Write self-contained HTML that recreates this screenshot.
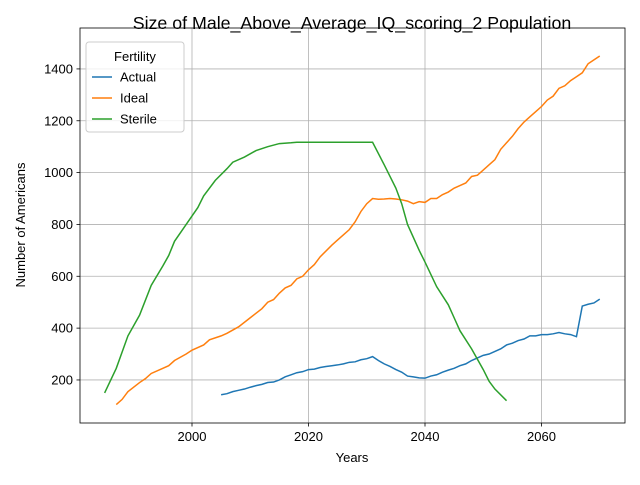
<!DOCTYPE html>
<html><head><meta charset="utf-8"><style>
body{margin:0;background:#fff}
svg{font-family:"Liberation Sans","DejaVu Sans",sans-serif}
</style></head><body>
<svg id="chart" width="640" height="480" viewBox="0 0 640 480" xmlns="http://www.w3.org/2000/svg">
<rect width="640" height="480" fill="#fff"/>
<text x="352" y="29" text-anchor="middle" font-size="17.8">Size of Male_Above_Average_IQ_scoring_2 Population</text>
<g id="grid"></g>
<g id="series"></g>
<rect x="80" y="28" width="545" height="395" fill="none" stroke="#000" stroke-width="0.8"/>
<g id="ticks"></g>
<text x="352" y="462" text-anchor="middle" font-size="13">Years</text>
<text transform="translate(25,225) rotate(-90)" text-anchor="middle" font-size="13">Number of Americans</text>
<g id="legend">
<rect x="86" y="42" width="98" height="90" rx="3" fill="#fff" fill-opacity="0.8" stroke="#ccc"/>
<text x="135" y="61" text-anchor="middle" font-size="13">Fertility</text>
</g>
</svg>
<script>
const actualYears=[2005,2006,2007,2008,2009,2010,2011,2012,2013,2014,2015,2016,2017,2018,2019,2020,2021,2022,2023,2024,2025,2026,2027,2028,2029,2030,2031,2032,2033,2034,2035,2036,2037,2038,2039,2040,2041,2042,2043,2044,2045,2046,2047,2048,2049,2050,2051,2052,2053,2054,2055,2056,2057,2058,2059,2060,2061,2062,2063,2064,2065,2066,2067,2068,2069,2070];
const actualValues=[143,147,155,160,165,172,178,183,190,192,200,212,220,228,232,240,242,248,252,255,258,262,268,270,278,282,290,275,262,252,240,230,215,212,208,207,215,220,230,238,245,255,262,275,285,295,300,310,320,335,342,352,358,370,370,375,375,378,383,378,375,367,485,492,497,512];
const idealYears=[1987,1988,1989,1991,1992,1993,1995,1996,1997,1999,2000,2002,2003,2005,2006,2008,2010,2012,2013,2014,2015,2016,2017,2018,2019,2020,2021,2022,2024,2025,2026,2027,2028,2029,2030,2031,2032,2033,2034,2035,2036,2037,2038,2039,2040,2041,2042,2043,2044,2045,2046,2047,2048,2049,2050,2051,2052,2053,2054,2055,2056,2057,2058,2059,2060,2061,2062,2063,2064,2065,2066,2067,2068,2069,2070];
const idealValues=[105,125,155,190,205,225,245,255,275,300,315,335,355,370,380,405,440,475,500,510,535,555,565,590,600,625,645,675,720,740,760,780,810,850,880,900,897,898,900,898,895,890,880,888,885,900,900,915,925,940,950,960,985,990,1010,1030,1050,1090,1115,1140,1170,1195,1215,1235,1255,1280,1295,1325,1335,1355,1370,1385,1420,1435,1450];
const sterileYears=[1985,1987,1989,1991,1993,1995,1996,1997,1999,2001,2002,2004,2006,2007,2009,2011,2013,2015,2017,2018,2031,2033,2035,2036,2037,2039,2040,2042,2044,2045,2046,2048,2049,2050,2051,2052,2054];
const sterileValues=[150,245,370,450,565,640,680,735,800,865,910,970,1015,1040,1060,1085,1100,1112,1115,1117,1117,1030,940,880,800,700,655,560,490,440,390,320,280,240,195,165,120];
const xTicks=[2000,2020,2040,2060];
const yTicks=[200,400,600,800,1000,1200,1400];
const NS="http://www.w3.org/2000/svg";
const X=v=>192+(v-2000)*5.825;
const Y=v=>431.8-v*0.2592;
const grid=document.getElementById('grid'),ticks=document.getElementById('ticks'),series=document.getElementById('series');
function mk(tag,attrs,parent){const e=document.createElementNS(NS,tag);for(const k in attrs)e.setAttribute(k,attrs[k]);parent.appendChild(e);return e;}
xTicks.forEach(t=>{
  const gl=mk('line',{x1:X(t),x2:X(t),y1:28,y2:423,stroke:'#b0b0b0','stroke-width':0.8},grid);
  
  
  mk('line',{x1:X(t),x2:X(t),y1:423,y2:426.5,stroke:'#000','stroke-width':0.8},ticks);
  const tx=mk('text',{x:X(t),y:441,'text-anchor':'middle','font-size':13},ticks);
  tx.textContent=t;
  
  
});
yTicks.forEach(t=>{
  const gl=mk('line',{x1:80,x2:625,y1:Y(t),y2:Y(t),stroke:'#b0b0b0','stroke-width':0.8},grid);
  
  
  mk('line',{x1:76.5,x2:80,y1:Y(t),y2:Y(t),stroke:'#000','stroke-width':0.8},ticks);
  const tx=mk('text',{x:73,y:Y(t)+4.5,'text-anchor':'end','font-size':13},ticks);
  tx.textContent=t;
  
  
});
const defs=[['Actual','#1f77b4',actualYears,actualValues],['Ideal','#ff7f0e',idealYears,idealValues],['Sterile','#2ca02c',sterileYears,sterileValues]];
const legend=document.getElementById('legend');
defs.forEach((d,i)=>{
  const p=mk('polyline',{points:d[2].map((yr,j)=>X(yr)+','+Y(d[3][j])).join(' '),fill:'none',stroke:d[1],'stroke-width':1.5},series);
  
  
  const ly=77+i*21;
  const ll=mk('line',{x1:92,x2:112,y1:ly,y2:ly,stroke:d[1],'stroke-width':1.5},legend);
  
  
  const lt=mk('text',{x:120,y:ly+4.5,'font-size':13},legend);
  lt.textContent=d[0];
  
  
});
</script>
</body></html>
